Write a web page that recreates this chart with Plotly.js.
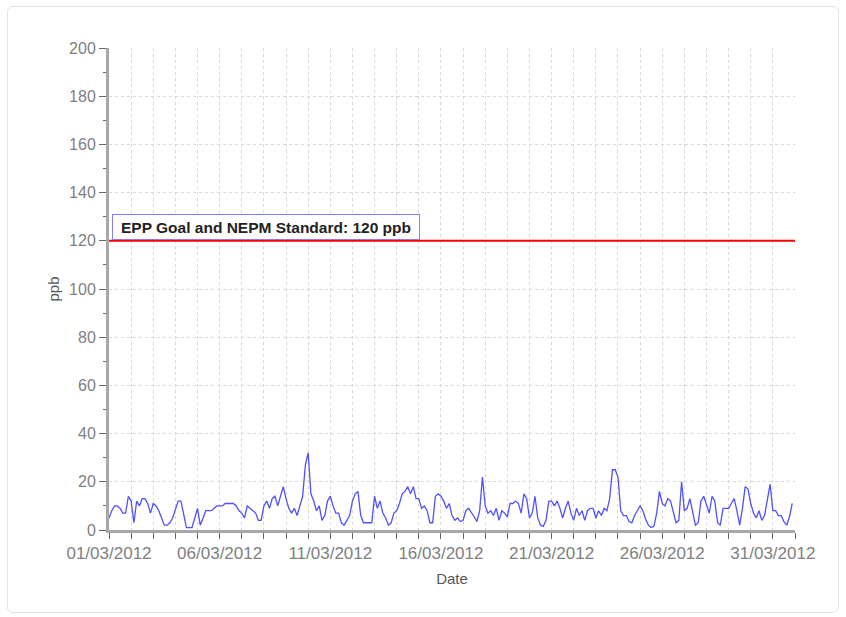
<!DOCTYPE html>
<html><head><meta charset="utf-8">
<script src="https://cdn.plot.ly/plotly-3.0.1.min.js"></script>
<style>
html,body{margin:0;padding:0;background:#fff;}
#frame{position:absolute;left:7px;top:6px;width:830px;height:605px;border:1px solid #e2e2e2;border-radius:6px;background:#fff;}
#chart{position:absolute;left:0;top:0;width:846px;height:617px;}
</style></head><body>
<div id="frame"></div><div id="chart"></div>
<script>
// 3-hourly readings (ppb), starting 01/03/2012 00:00
const startDate = '2012-03-01T00:00:00';
const stepHours = 3;
const ppb = [
  5, 8, 10, 10, 9, 7, 7, 14,
  12, 3, 12, 10, 13, 13, 11, 7,
  11, 10, 8, 5, 2, 2, 3, 5,
  9, 12, 12, 7, 1, 1, 1, 5,
  9, 2, 5, 8, 8, 8, 9, 10,
  10, 10, 11, 11, 11, 11, 10, 8,
  7, 5, 10, 9, 8, 7, 4, 4,
  10, 12, 9, 13, 14, 10, 14, 18,
  13, 9, 7, 9, 6, 10, 14, 27,
  32, 15, 12, 8, 10, 4, 6, 12,
  14, 10, 7, 7, 3, 2, 4, 6,
  12, 15, 16, 6, 3, 3, 3, 3,
  14, 9, 12, 7, 5, 2, 3, 7,
  8, 11, 15, 16, 18, 15, 18, 13,
  13, 9, 10, 8, 3, 3, 14, 15,
  14, 12, 9, 11, 6, 4, 5, 3.5,
  4, 8, 9, 7.5, 5.5, 3.5, 8, 22,
  10, 7, 8, 6, 9, 4, 8, 7,
  5.5, 11, 11, 12, 11, 7, 15, 13,
  5, 7, 14, 5, 2, 1.5, 4, 12,
  12, 10, 12, 9, 5, 9, 12, 7,
  4, 9, 6, 8, 4, 8, 9, 9,
  5, 8, 6, 9, 8, 13, 25, 25,
  22, 8, 6, 6, 3.5, 3, 6, 8,
  10, 8, 4.5, 2, 1, 1.5, 7, 16,
  11, 10, 13, 12, 8, 3, 4, 20,
  8, 9, 13, 7, 2, 3, 12, 14,
  10, 7, 14, 12, 3, 2, 9, 9,
  9, 11, 13, 8, 2, 9, 18, 17,
  11, 7, 5, 8, 4, 6, 13, 19,
  8, 8, 6, 6, 3.5, 2, 5.5, 11
];
const goalValue = 120;
const goalLabel = '<b>EPP Goal and NEPM Standard: 120 ppb</b>';
const xTitle = 'Date';
const yTitle = 'ppb';
const xRange = ['2012-03-01 00:00', '2012-04-01 00:00'];
const yRange = [0, 200];

const t0 = new Date(startDate + 'Z').getTime();
const times = ppb.map((v, i) => new Date(t0 + i * stepHours * 3600000).toISOString().slice(0, 19).replace('T', ' '));

const DAY = 86400000;
const gridCol = '#d8d8d8';
const gridDash = '3px,3px';

const trace = {
  x: times, y: ppb, type: 'scatter', mode: 'lines',
  line: {color: '#5050ff', width: 1.3},
  hoverinfo: 'x+y'
};

const layout = {
  width: 846, height: 617,
  margin: {l: 109, r: 51, t: 48, b: 87},
  paper_bgcolor: 'rgba(0,0,0,0)', plot_bgcolor: '#ffffff',
  font: {family: 'Liberation Sans, Arial, sans-serif', size: 16, color: '#777'},
  showlegend: false,
  xaxis: {
    type: 'date', range: xRange, tick0: '2012-03-01', dtick: 5 * DAY,
    tickformat: '%d/%m/%Y', ticks: 'outside', ticklen: 6, tickcolor: '#666', tickwidth: 1,
    showline: true, linecolor: '#a8a8a8', linewidth: 3,
    showgrid: true, gridcolor: gridCol, griddash: gridDash, gridwidth: 1, zeroline: false,
    tickfont: {size: 17, color: '#808080'},
    title: {text: xTitle, font: {size: 15, color: '#555'}, standoff: 12},
    minor: {dtick: DAY, tick0: '2012-03-01', ticks: 'outside', ticklen: 6, tickcolor: '#666',
            showgrid: true, gridcolor: gridCol, griddash: gridDash}
  },
  yaxis: {
    range: yRange, dtick: 20, tick0: 0, ticks: 'outside', ticklen: 7, tickcolor: '#666', tickwidth: 1,
    showline: true, linecolor: '#a8a8a8', linewidth: 3,
    showgrid: true, gridcolor: gridCol, griddash: gridDash, gridwidth: 1, zeroline: false,
    tickfont: {size: 16, color: '#808080'},
    title: {text: yTitle, font: {size: 15, color: '#555'}, standoff: 6},
    minor: {dtick: 10, ticks: 'outside', ticklen: 3, tickcolor: '#666', showgrid: false}
  },
  shapes: [{
    type: 'line', xref: 'paper', x0: 0, x1: 1, yref: 'y', y0: goalValue, y1: goalValue,
    line: {color: '#ff0000', width: 2}
  }],
  annotations: [{
    xref: 'paper', x: 0.005, yref: 'y', y: goalValue, xanchor: 'left', yanchor: 'bottom',
    text: goalLabel, showarrow: false, bgcolor: '#ffffff', bordercolor: '#7f7fff',
    borderwidth: 1, borderpad: 3, width: 300, height: 18, align: 'center',
    font: {size: 15.5, color: '#222'}, yshift: 1
  }]
};

Plotly.newPlot('chart', [trace], layout, {displayModeBar: false, staticPlot: true});
</script>
</body></html>
